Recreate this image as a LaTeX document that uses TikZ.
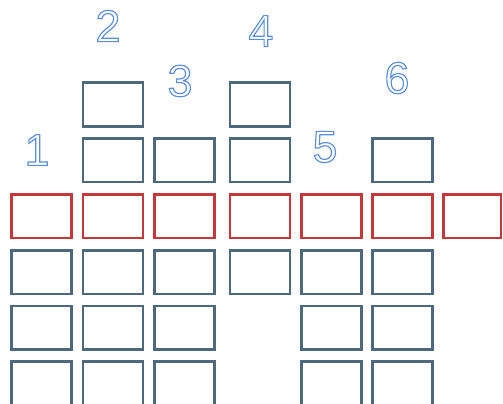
\documentclass[tikz,border=0pt]{standalone}
\usepackage{fontspec}
\setmainfont{Liberation Sans}
\definecolor{boxgray}{HTML}{4E687C}
\definecolor{boxred}{HTML}{C4373B}
\definecolor{numblue}{HTML}{5B8ED6}
\newcommand{\hollowdigit}[1]{{\color{numblue}\special{pdf:code 1 Tr 1.15 w}#1\special{pdf:code 0 Tr}}}
\tikzset{
  cell/.style={draw=boxgray,line width=2.6pt,minimum width=59.9pt,minimum height=43.7pt,inner sep=0pt},
  redcell/.style={cell,draw=boxred},
  num/.style={inner sep=0pt,font=\fontsize{44.7}{44.7}\selectfont}
}
\begin{document}
\begin{tikzpicture}[x=1pt,y=-1pt]
\fill[white] (0,0) rectangle (503,404);
\useasboundingbox (0,0) rectangle (503,404);
% column 1
\node[redcell] (r1) at (41.25,216.15) {};
\node[cell] (a14) at (41.25,272.15) {};
\node[cell] (a15) at (41.25,327.85) {};
\node[cell] (a16) at (41.25,383.45) {};
% column 2
\node[cell] (a21) at (112.95,104.45) {};
\node[cell] (a22) at (112.95,160.15) {};
\node[redcell] (r2) at (112.95,216.15) {};
\node[cell] (a24) at (112.95,272.15) {};
\node[cell] (a25) at (112.95,327.85) {};
\node[cell] (a26) at (112.95,383.45) {};
% column 3
\node[cell] (a32) at (184.25,160.15) {};
\node[redcell] (r3) at (184.25,216.15) {};
\node[cell] (a34) at (184.25,272.15) {};
\node[cell] (a35) at (184.25,327.85) {};
\node[cell] (a36) at (184.25,383.45) {};
% column 4
\node[cell] (a41) at (259.95,104.45) {};
\node[cell] (a42) at (259.95,160.15) {};
\node[redcell] (r4) at (259.95,216.15) {};
\node[cell] (a44) at (259.95,272.15) {};
% column 5
\node[redcell] (r5) at (331.25,216.15) {};
\node[cell] (a54) at (331.25,272.15) {};
\node[cell] (a55) at (331.25,327.85) {};
\node[cell] (a56) at (331.25,383.45) {};
% column 6
\node[cell] (a62) at (402.25,160.15) {};
\node[redcell] (r6) at (402.25,216.15) {};
\node[cell] (a64) at (402.25,272.15) {};
\node[cell] (a65) at (402.25,327.85) {};
\node[cell] (a66) at (402.25,383.45) {};
% column 7
\node[redcell,minimum width=57.4pt] (r7) at (472.3,216.15) {};
% numbers
\node[num] (n1) at (37,150) {\hollowdigit{1}};
\node[num] (n2) at (108,26) {\hollowdigit{2}};
\node[num] (n3) at (180,81) {\hollowdigit{3}};
\node[num] (n4) at (261,31) {\hollowdigit{4}};
\node[num] (n5) at (325,147) {\hollowdigit{5}};
\node[num] (n6) at (397,78) {\hollowdigit{6}};
\end{tikzpicture}
\end{document}
